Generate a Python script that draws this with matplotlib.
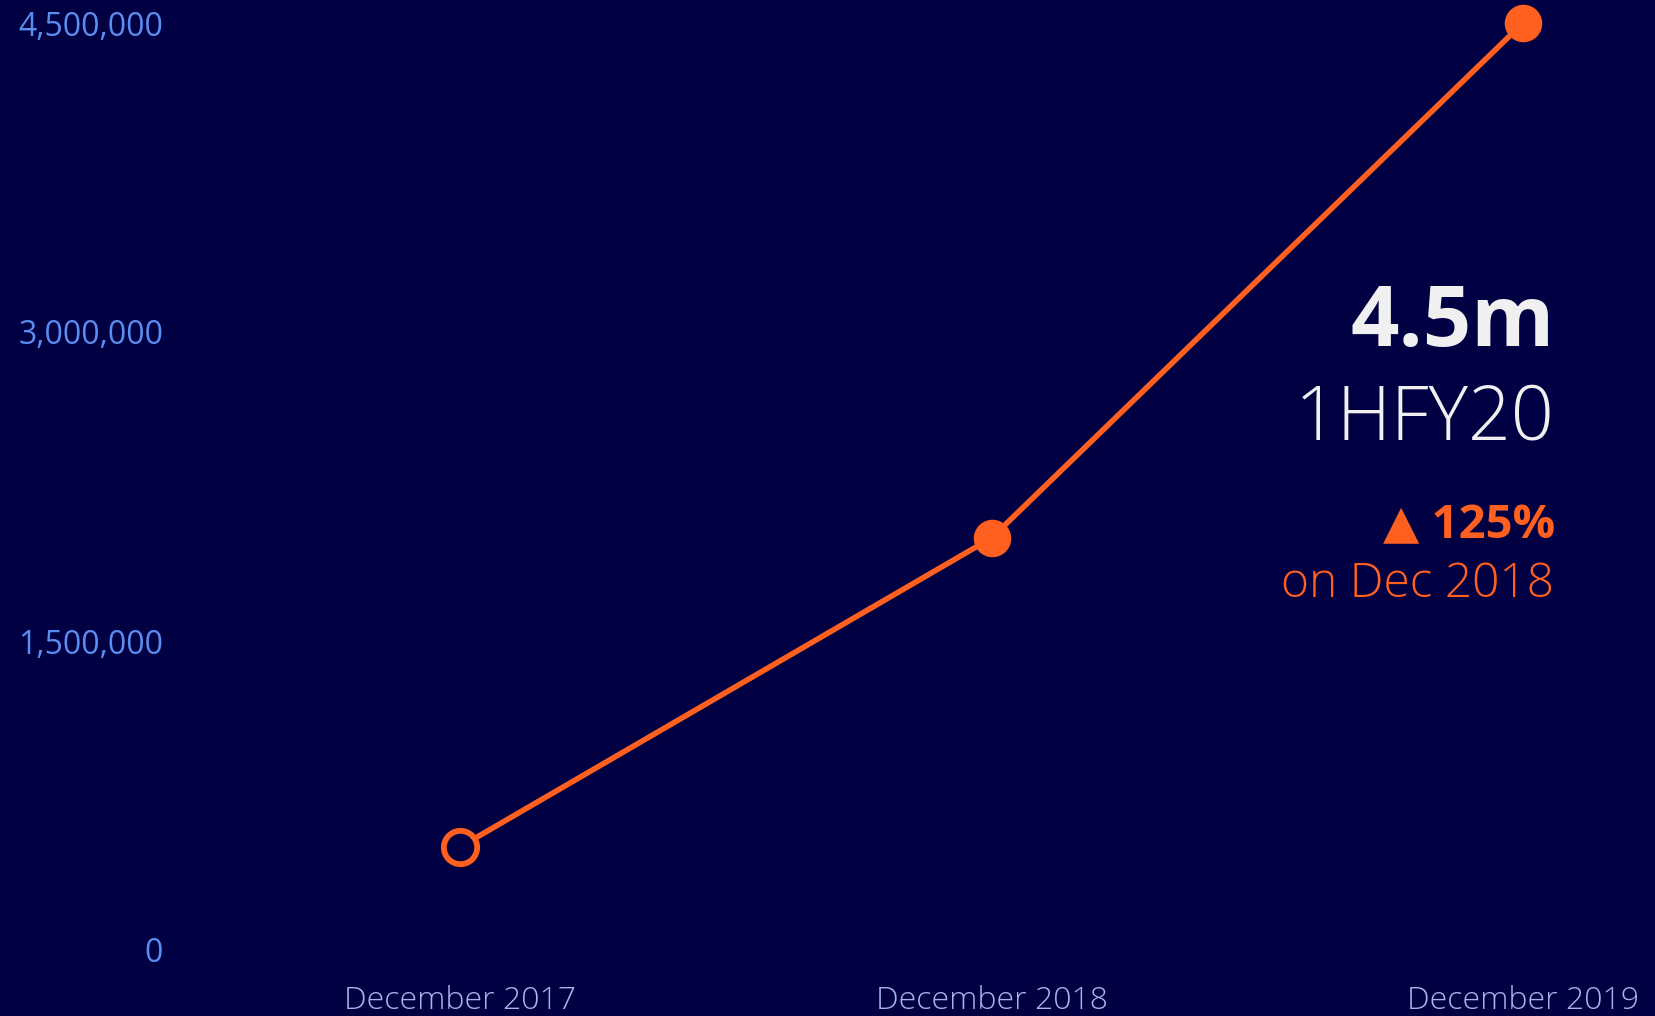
import numpy as np
import matplotlib
matplotlib.use("Agg")
import matplotlib.pyplot as plt

# Data
periods = ["December 2017", "December 2018", "December 2019"]
users = [500000, 2000000, 4500000]
y_ticks = [0, 1500000, 3000000, 4500000]

bg = "#000042"
orange = "#ff5f1f"
tick_blue = "#5b8cf0"
x_label_col = "#a6b4ea"

plt.rcParams["font.family"] = ["Open Sans", "DejaVu Sans"]

W, H = 1655, 1016
fig = plt.figure(figsize=(W / 100, H / 100), dpi=100, facecolor=bg)

# axes placed in pixels
left_px, bottom_px, top_px = 175, 950, 23
ax = fig.add_axes([left_px / W, (H - bottom_px) / H, 1 - left_px / W, (bottom_px - top_px) / H])
ax.set_facecolor(bg)

x = np.arange(len(periods))
px_per_unit = (1523 - 460) / 2
ax.set_xlim((left_px - 460) / px_per_unit, (W - 460) / px_per_unit)
ax.set_ylim(0, 4500000)

ax.plot(x, users, color=orange, linewidth=4, zorder=2)
ax.plot(x[1:], users[1:], "o", color=orange, markersize=26, zorder=3, clip_on=False)
ax.plot(x[:1], users[:1], "o", markerfacecolor=bg, markeredgecolor=orange,
        markeredgewidth=4.2, markersize=24, zorder=3, clip_on=False)

ax.set_xticks(x)
ax.set_xticklabels(periods, fontsize=23, color=x_label_col, fontweight="light")
ax.set_yticks(y_ticks)
ax.set_yticklabels([f"{v:,}" for v in y_ticks], fontsize=23, color=tick_blue)
ax.tick_params(axis="y", length=0, pad=8.5)
ax.tick_params(axis="x", length=0, pad=25)
for s in ax.spines.values():
    s.set_visible(False)

# annotation block
fig.text(1555 / W, 1 - 346 / H, "4.5m", ha="right", va="baseline",
         fontsize=61, fontweight="bold", color="#f0f0f0")
fig.text(1554 / W, 1 - 440 / H, "1HFY20", ha="right", va="baseline",
         fontsize=54, fontweight="light", color="#f0f0f0")
fig.text(1555 / W, 1 - 538 / H, "\u25b2 125%", ha="right", va="baseline",
         fontsize=34, fontweight="bold", color=orange)
fig.text(1554 / W, 1 - 597 / H, "on Dec 2018", ha="right", va="baseline",
         fontsize=34.5, fontweight="light", color=orange)

fig.savefig("out.png", dpi=100, facecolor=bg)
